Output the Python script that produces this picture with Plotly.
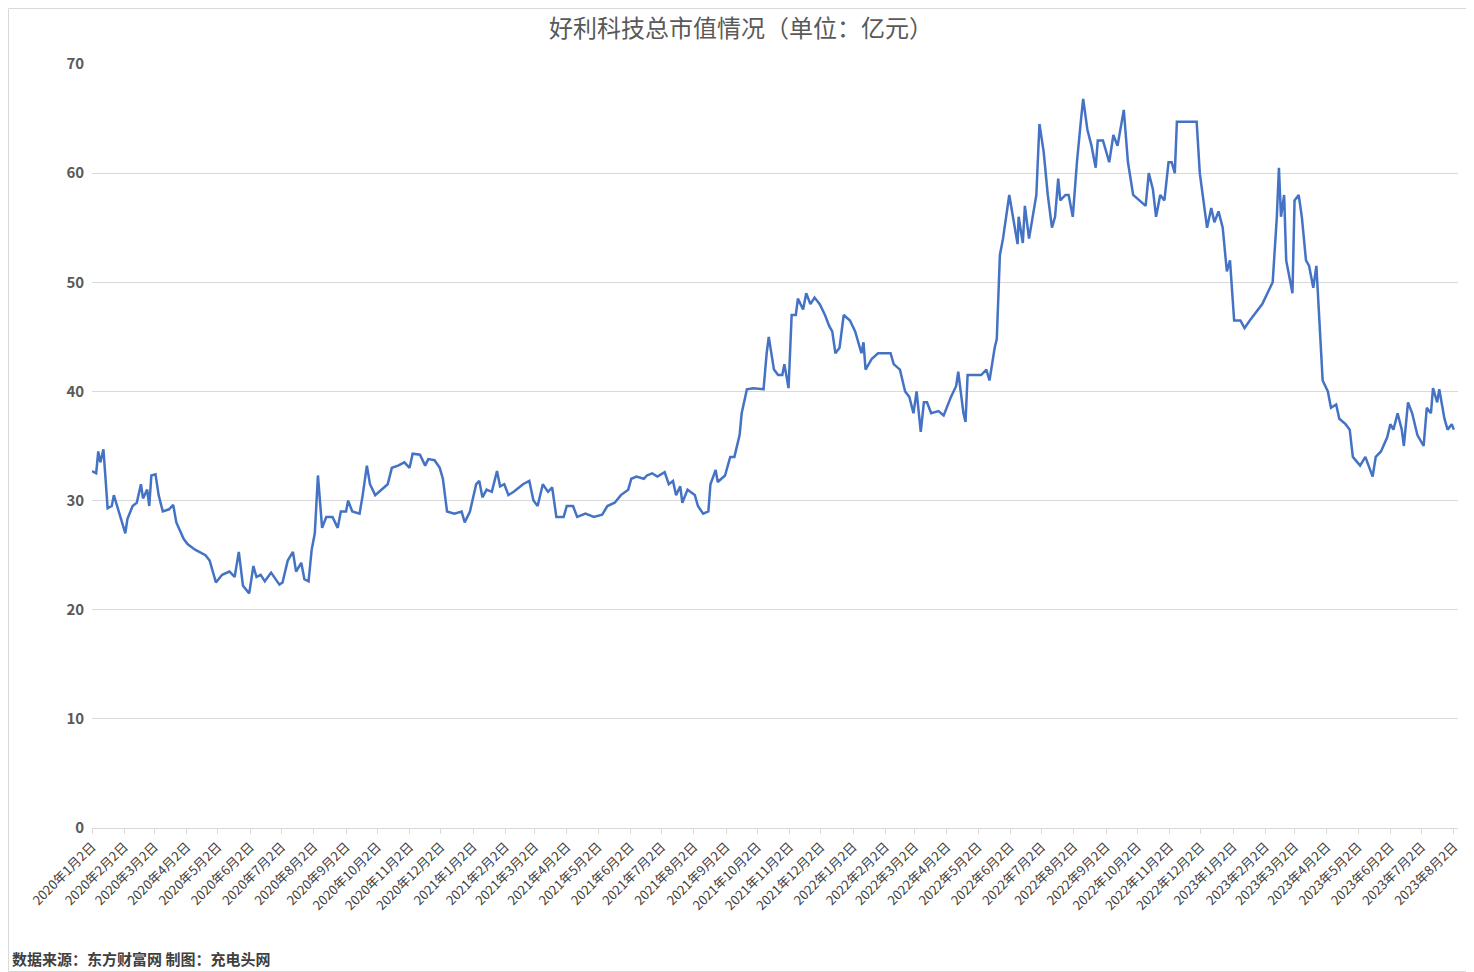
import pandas as pd
import plotly.graph_objects as go

# values (date, 总市值 in 亿元)
dates_2020 = ["2020-01-02","2020-01-06","2020-01-08","2020-01-10","2020-01-13","2020-01-17","2020-01-21","2020-01-23",
    "2020-02-03","2020-02-05","2020-02-10","2020-02-14","2020-02-18","2020-02-20","2020-02-24","2020-02-26","2020-02-28",
    "2020-03-03","2020-03-06","2020-03-10","2020-03-16","2020-03-20","2020-03-23","2020-03-30","2020-04-03","2020-04-10",
    "2020-04-20","2020-04-24","2020-04-30","2020-05-06","2020-05-13","2020-05-18","2020-05-22","2020-05-26","2020-06-01",
    "2020-06-05","2020-06-08","2020-06-12","2020-06-16","2020-06-22","2020-06-30","2020-07-03","2020-07-08","2020-07-13",
    "2020-07-16","2020-07-21","2020-07-24","2020-07-28","2020-07-31","2020-08-03","2020-08-06","2020-08-10","2020-08-14",
    "2020-08-20","2020-08-25","2020-08-28","2020-09-02","2020-09-04","2020-09-08","2020-09-15","2020-09-18","2020-09-22",
    "2020-09-25","2020-09-30","2020-10-12","2020-10-16","2020-10-22","2020-10-28","2020-11-02","2020-11-05","2020-11-12",
    "2020-11-17","2020-11-20","2020-11-26","2020-12-01","2020-12-04","2020-12-08","2020-12-15","2020-12-22","2020-12-25",
    "2020-12-30"]
values_2020 = [32.7,32.5,34.5,33.5,34.7,29.3,29.5,30.5,
    27,28.3,29.5,29.8,31.5,30.2,31,29.5,32.3,
    32.4,30.5,29,29.2,29.6,28,26.5,26,25.5,
    25,24.5,22.5,23.2,23.5,23,25.3,22.2,21.5,
    24,23,23.2,22.6,23.4,22.3,22.5,24.5,25.3,
    23.5,24.3,22.8,22.6,25.5,27,32.3,27.5,28.5,
    28.5,27.5,29,29,30,29,28.8,30.5,33.2,
    31.5,30.5,31.5,33,33.2,33.5,33,34.3,34.2,
    33.2,33.8,33.7,33,32,29,28.8,29,28,
    29]

dates_2021 = ["2021-01-05","2021-01-08","2021-01-11","2021-01-15","2021-01-20","2021-01-25","2021-01-28","2021-02-01",
    "2021-02-05","2021-02-10","2021-02-19","2021-02-25","2021-03-01","2021-03-05","2021-03-10","2021-03-15","2021-03-19",
    "2021-03-23","2021-03-30","2021-04-02","2021-04-08","2021-04-12","2021-04-20","2021-04-28","2021-05-06","2021-05-11",
    "2021-05-18","2021-05-24","2021-05-31","2021-06-03","2021-06-08","2021-06-15","2021-06-18","2021-06-23","2021-06-28",
    "2021-07-05","2021-07-09","2021-07-13","2021-07-16","2021-07-20","2021-07-22","2021-07-27","2021-08-03","2021-08-06",
    "2021-08-11","2021-08-16","2021-08-18","2021-08-23","2021-08-25","2021-09-01","2021-09-06","2021-09-10","2021-09-15",
    "2021-09-17","2021-09-22","2021-09-28","2021-10-08","2021-10-11","2021-10-13","2021-10-18","2021-10-22","2021-10-26",
    "2021-10-28","2021-11-01","2021-11-04","2021-11-08","2021-11-10","2021-11-15","2021-11-18","2021-11-22","2021-11-26",
    "2021-12-01","2021-12-06","2021-12-10","2021-12-13","2021-12-16","2021-12-20","2021-12-24","2021-12-30"]
values_2021 = [31.5,31.8,30.3,31,30.8,32.7,31.3,31.5,
    30.5,30.8,31.5,31.8,30,29.5,31.5,30.8,31.2,
    28.5,28.5,29.5,29.5,28.5,28.8,28.5,28.7,29.5,
    29.8,30.5,31,32,32.2,32,32.3,32.5,32.2,
    32.6,31.5,31.8,30.5,31.3,29.8,31,30.5,29.5,
    28.8,29,31.5,32.8,31.7,32.3,34,34,36,
    38,40.2,40.3,40.2,43.5,45,42,41.5,41.5,
    42.5,40.3,47,47,48.5,47.5,49,48,48.6,
    48,47,46,45.5,43.5,44,47,46.5]

dates_2022 = ["2022-01-04","2022-01-10","2022-01-12","2022-01-14","2022-01-20","2022-01-26","2022-02-07","2022-02-10",
    "2022-02-16","2022-02-21","2022-02-25","2022-03-01","2022-03-04","2022-03-08","2022-03-11","2022-03-14","2022-03-18",
    "2022-03-25","2022-03-30","2022-04-06","2022-04-11","2022-04-13","2022-04-18","2022-04-20","2022-04-22","2022-05-05",
    "2022-05-10","2022-05-13","2022-05-18","2022-05-20","2022-05-23","2022-05-26","2022-06-01","2022-06-06","2022-06-09",
    "2022-06-10","2022-06-14","2022-06-16","2022-06-20","2022-06-27","2022-06-30","2022-07-04","2022-07-08","2022-07-12",
    "2022-07-15","2022-07-18","2022-07-20","2022-07-25","2022-07-28","2022-08-01","2022-08-05","2022-08-09","2022-08-11",
    "2022-08-15","2022-08-19","2022-08-23","2022-08-25","2022-08-30","2022-09-05","2022-09-09","2022-09-13","2022-09-19",
    "2022-09-23","2022-09-28","2022-10-10","2022-10-13","2022-10-17","2022-10-20","2022-10-24","2022-10-28","2022-11-01",
    "2022-11-04","2022-11-07","2022-11-09","2022-11-28","2022-12-01","2022-12-05","2022-12-08","2022-12-12","2022-12-15",
    "2022-12-19","2022-12-23","2022-12-27","2022-12-30"]
values_2022 = [45.5,43.5,44.5,42,43,43.5,43.5,42.5,
    42,40,39.5,38,40,36.3,39,39,38,
    38.2,37.8,39.5,40.5,41.8,38,37.2,41.5,41.5,
    42,41,44,44.8,52.5,54,58,55,53.5,
    56,53.6,57,54,58,64.5,62,58,55,
    56,59.5,57.5,58,58,56,61,65,66.8,
    64,62.5,60.5,63,63,61,63.5,62.5,65.8,
    61,58,57,60,58.5,56,58,57.5,61,
    61,60,64.7,64.7,60,57,55,56.8,55.5,
    56.5,55,51,52]

dates_2023 = ["2023-01-03","2023-01-09","2023-01-13","2023-01-18","2023-01-30","2023-02-06","2023-02-09","2023-02-13",
    "2023-02-15","2023-02-17","2023-02-20","2023-02-22","2023-02-24","2023-02-28","2023-03-02","2023-03-06","2023-03-09",
    "2023-03-13","2023-03-16","2023-03-20","2023-03-23","2023-03-29","2023-04-03","2023-04-06","2023-04-11","2023-04-14",
    "2023-04-20","2023-04-24","2023-04-27","2023-05-04","2023-05-09","2023-05-12","2023-05-16","2023-05-19","2023-05-24",
    "2023-05-30","2023-06-02","2023-06-05","2023-06-09","2023-06-13","2023-06-15","2023-06-19","2023-06-23","2023-06-28",
    "2023-07-04","2023-07-07","2023-07-11","2023-07-13","2023-07-17","2023-07-19","2023-07-21","2023-07-24","2023-07-27",
    "2023-07-31","2023-08-02"]
values_2023 = [46.5,46.5,45.8,46.5,48,49.5,50,56,
    60.5,56,58,52,51,49,57.5,58,56,
    52,51.5,49.5,51.5,41,40,38.5,38.8,37.5,
    37,36.5,34,33.2,34,33.2,32.2,34,34.5,
    35.8,37,36.5,38,36.5,35,39,38,36,
    35,38.5,38,40.3,39,40.2,39,37.5,36.5,
    37,36.5]

dates = pd.to_datetime(dates_2020 + dates_2021 + dates_2022 + dates_2023)
values = values_2020 + values_2021 + values_2022 + values_2023

tick_dates = pd.date_range("2020-01-01", "2023-08-01", freq="MS") + pd.Timedelta(days=1)
tick_labels = [f"{d.year}年{d.month}月{d.day}日" for d in tick_dates]

fig = go.Figure()
fig.add_trace(go.Scatter(x=dates, y=values, mode="lines",
                         line=dict(color="#4472C4", width=2.5), showlegend=False))

# the page has an 8px body margin, so the figure is shrunk by that amount
fig.update_layout(
    width=1466, height=964,
    paper_bgcolor="white", plot_bgcolor="white",
    margin=dict(l=84, r=16, t=56, b=144),
    font=dict(family="Noto Sans CJK SC", color="#595959"),
    title=dict(text="好利科技总市值情况（单位：亿元）", x=0.5, y=0.987, xanchor="center",
               yanchor="top", font=dict(size=24, color="#595959")),
)
fig.update_xaxes(range=[pd.Timestamp("2020-01-02"), pd.Timestamp("2023-08-06")],
                 tickvals=tick_dates, ticktext=tick_labels, tickangle=-45,
                 tickfont=dict(size=13, color="#404040"), automargin=False,
                 showgrid=False, showline=True, linecolor="#d9d9d9",
                 ticks="outside", tickcolor="#d9d9d9", ticklen=5)
fig.update_yaxes(range=[0, 70], dtick=10, showgrid=True, gridcolor="#d9d9d9",
                 zeroline=False, tickfont=dict(size=15, color="#595959", weight="bold"),
                 ticksuffix="  ", automargin=False)
fig.add_annotation(text="<b>数据来源：东方财富网 制图：充电头网</b>", xref="paper", yref="paper",
                   x=-82/1366, y=-(958-828)/764, xanchor="left", yanchor="middle",
                   showarrow=False, font=dict(size=15, color="#404040"))
fig.add_shape(type="rect", xref="paper", yref="paper",
              x0=-83.5/1366, x1=1+15.5/1366, y0=-(143.5)/764, y1=1+55.5/764,
              line=dict(color="#d9d9d9", width=1))

fig.write_html("out.html")
